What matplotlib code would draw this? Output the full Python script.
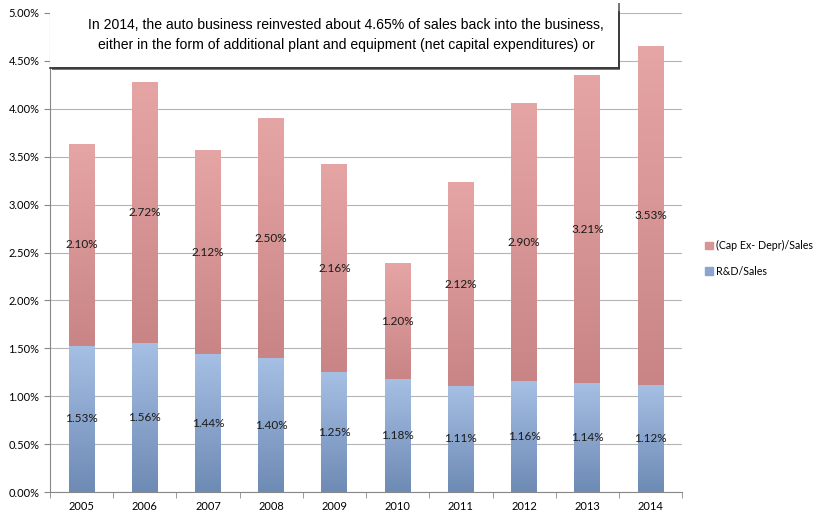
import numpy as np
import matplotlib.pyplot as plt
from matplotlib.colors import LinearSegmentedColormap
from matplotlib.patches import Rectangle
from matplotlib.lines import Line2D
from matplotlib.ticker import FuncFormatter, MultipleLocator

years = ['2005', '2006', '2007', '2008', '2009', '2010', '2011', '2012', '2013', '2014']
rd_sales = [1.53, 1.56, 1.44, 1.40, 1.25, 1.18, 1.11, 1.16, 1.14, 1.12]
capex_sales = [2.10, 2.72, 2.12, 2.50, 2.16, 1.20, 2.12, 2.90, 3.21, 3.53]
legend_labels = ['(Cap Ex- Depr)/Sales', 'R&D/Sales']
note = ('In 2014, the auto business reinvested about 4.65% of sales back into the business,\n'
        'either in the form of additional plant and equipment (net capital expenditures) or')

plt.rcParams['font.family'] = ['Lato', 'DejaVu Sans']

fig = plt.figure(figsize=(8.18, 5.17), dpi=100)
ax = fig.add_axes([0.061, 0.048, 0.773, 0.927])

x = np.arange(len(years))
w = 0.41
blue_cmap = LinearSegmentedColormap.from_list('b', ['#6e8bb5', '#a6bfe4'])
red_cmap = LinearSegmentedColormap.from_list('r', ['#c98585', '#e6a5a5'])
grad = np.linspace(0, 1, 100).reshape(-1, 1)

bars_rd = ax.bar(x, rd_sales, w, color='#8aa6d0', zorder=2)
bars_cx = ax.bar(x, capex_sales, w, bottom=rd_sales, color='#d99595', zorder=2)

# gradient fill over each segment
for bars, cmap in [(bars_rd, blue_cmap), (bars_cx, red_cmap)]:
    for b in bars:
        x0, y0 = b.get_x(), b.get_y()
        ax.imshow(grad, extent=[x0, x0 + b.get_width(), y0, y0 + b.get_height()],
                  origin='lower', aspect='auto', cmap=cmap, zorder=3)

for i in range(len(years)):
    ax.text(x[i], rd_sales[i] / 2, f'{rd_sales[i]:.2f}%', ha='center', va='center',
            fontsize=8.5, color='#1a1a1a', zorder=4)
    ax.text(x[i], rd_sales[i] + capex_sales[i] / 2, f'{capex_sales[i]:.2f}%', ha='center',
            va='center', fontsize=8.5, color='#1a1a1a', zorder=4)

ax.set_xlim(-0.5, len(years) - 0.5)
ax.set_ylim(0, 5.0)
ax.yaxis.set_major_locator(MultipleLocator(0.5))
ax.yaxis.set_major_formatter(FuncFormatter(lambda v, p: f'{v:.2f}%'))
ax.set_xticks(x)
ax.set_xticklabels(years)
ax.set_xticks(np.arange(-0.5, len(years)), minor=True)
ax.tick_params(axis='x', which='major', length=0, labelsize=8, pad=6)
ax.tick_params(axis='x', which='minor', length=4, color='#888888')
ax.tick_params(axis='y', length=4, color='#888888', labelsize=8)
ax.grid(axis='y', color='#b5b5b5', linewidth=0.8, zorder=0)
ax.set_axisbelow(True)
for s in ['top', 'right']:
    ax.spines[s].set_visible(False)
for s in ['left', 'bottom']:
    ax.spines[s].set_color('#888888')

handles = [Rectangle((0, 0), 1, 1, color='#d99595'), Rectangle((0, 0), 1, 1, color='#8aa6d0')]
fig.legend(handles, legend_labels, loc='center left', bbox_to_anchor=(0.862, 0.5),
           frameon=False, fontsize=7.7, handlelength=0.7, handleheight=0.7,
           labelspacing=1.35, handletextpad=0.3, borderpad=0, borderaxespad=0)

# note box with shadow at top of chart
fig.patches.append(Rectangle((0.063, 0.865), 0.695, 0.13, transform=fig.transFigure,
                             facecolor='#777777', edgecolor='none', zorder=5))
fig.patches.append(Rectangle((0.061, 0.87), 0.695, 0.14, transform=fig.transFigure,
                             facecolor='white', edgecolor='none', zorder=6))
fig.lines.append(Line2D([0.061, 0.757], [0.869, 0.869], transform=fig.transFigure,
                        color='#333333', linewidth=1.2, zorder=7))
fig.lines.append(Line2D([0.757, 0.757], [0.869, 0.977], transform=fig.transFigure,
                        color='#333333', linewidth=1.2, zorder=7))
fig.text(0.423, 0.932, note, ha='center', va='center', fontsize=10.1,
         family=['Liberation Sans', 'DejaVu Sans'], linespacing=1.5, zorder=8)

fig.savefig('out.png', dpi=100)
